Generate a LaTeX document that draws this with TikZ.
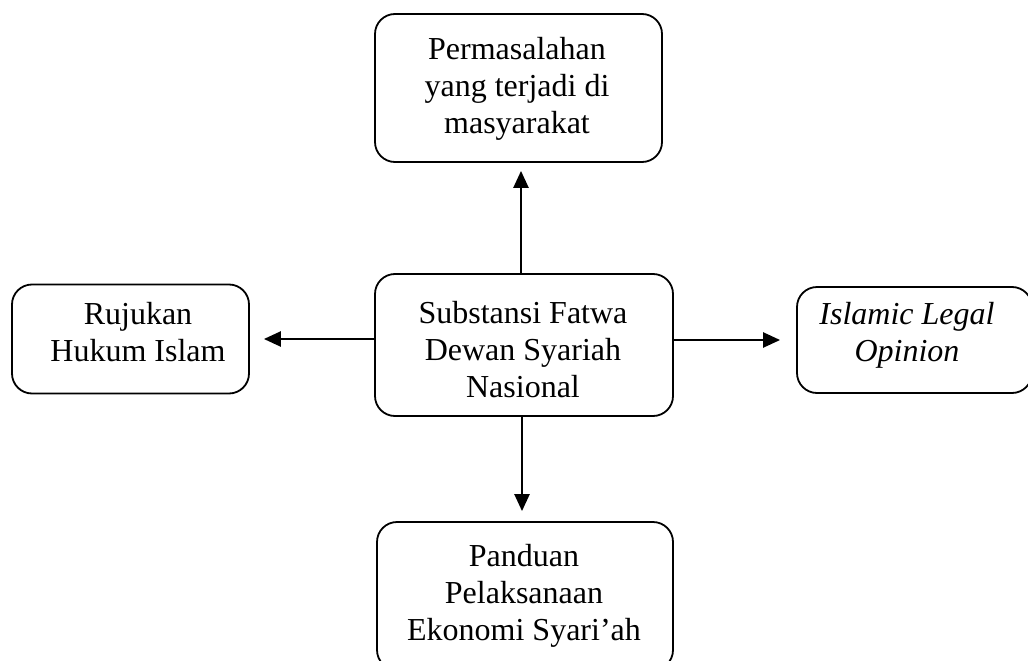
\documentclass[tikz,border=0pt]{standalone}
\usepackage{fontspec}
\setmainfont{Liberation Serif}
\usetikzlibrary{arrows.meta}
\begin{document}
\begin{tikzpicture}[x=1pt,y=-1pt,
  box/.style={draw, line width=1.8pt, rounded corners=20pt, inner sep=0pt},
  lbl/.style={align=center, font=\fontsize{32}{37}\selectfont, inner sep=0pt},
  arr/.style={line width=2.4pt, -{Triangle[length=17pt,width=15pt]}}]
\useasboundingbox (0,0) rectangle (1028,661);
% boxes
\node[box, minimum width=287pt, minimum height=148pt] (top) at (518.5,88) {};
\node[box, minimum width=298pt, minimum height=142pt] (ctr) at (524,345) {};
\node[box, minimum width=237pt, minimum height=109pt] (lft) at (130.5,339) {};
\node[box, minimum width=235pt, minimum height=106pt] (rgt) at (914.5,340) {};
\node[box, minimum width=296pt, minimum height=148pt] (bot) at (525,596) {};
% texts
\node[lbl] (topt) at (517,88.5) {Permasalahan\\yang terjadi di\\masyarakat};
\node[lbl] (ctrt) at (523,350) {Substansi Fatwa\\Dewan Syariah\\Nasional};
\node[lbl] (lftt) at (138,332.5) {Rujukan\\Hukum Islam};
\node[lbl] (rgtt) at (907,335.5) {\itshape Islamic Legal\\\itshape Opinion};
\node[lbl] (bott) at (524,596) {Panduan\\Pelaksanaan\\Ekonomi Syari’ah};
% arrows
\draw[arr] ([xshift=-3pt]ctr.north) -- ([xshift=-3pt,yshift=-8pt]ctr.north |- top.south);
\draw[arr] (ctr.west |- lft.east) -- ([xshift=14pt]lft.east);
\draw[arr] (ctr.east |- rgt.west) -- ([xshift=-16pt]rgt.west);
\draw[arr] ([xshift=-2pt]ctr.south) -- ([xshift=-2pt,yshift=10pt]ctr.south |- bot.north);
\end{tikzpicture}
\end{document}
